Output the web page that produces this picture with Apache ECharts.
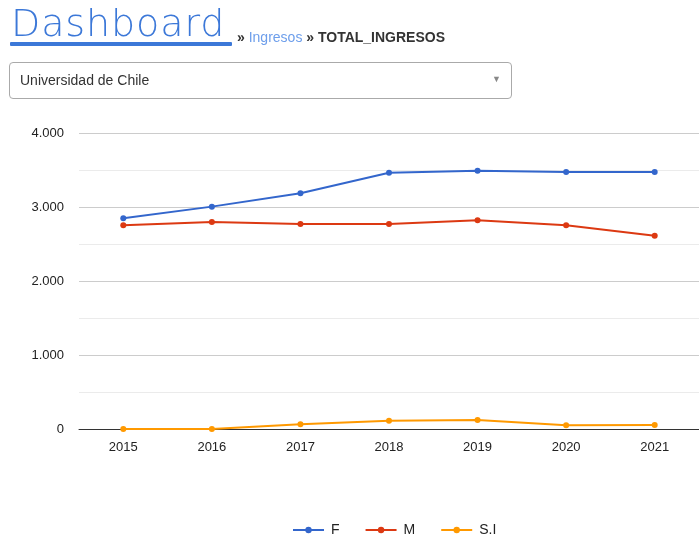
<!DOCTYPE html>
<html><head><meta charset="utf-8">
<script src="https://cdn.jsdelivr.net/npm/echarts@6/dist/echarts.min.js"></script>
<style>
html,body{margin:0;padding:0;background:#fff;width:699px;height:537px;overflow:hidden;font-family:"Liberation Sans",Arial,sans-serif;}
#chart{position:absolute;left:0;top:0;width:699px;height:537px;}
#dash{position:absolute;left:10px;top:3px;font-family:"DejaVu Sans","Noto Sans",sans-serif;font-weight:200;font-size:38px;color:#3c78d8;line-height:40px;letter-spacing:0.9px;padding-left:1px;white-space:nowrap;}
#uline{position:absolute;left:10px;top:42px;width:222px;height:4px;background:#3c78d8;border-radius:1px;}
#crumb{position:absolute;left:237px;top:29px;font-size:14px;color:#333;white-space:nowrap;}
#crumb .lnk{color:#6d9eeb;}
#crumb b{font-weight:bold;}
#sel{position:absolute;left:9px;top:62px;width:503px;height:37px;border:1px solid #aaa;border-radius:4px;box-sizing:border-box;font-size:14px;color:#333;}
#sel span{position:absolute;left:10px;top:9px;}
#sel i{position:absolute;right:10px;top:11px;font-style:normal;font-size:9px;color:#888;}
</style></head>
<body>
<div id="chart"></div>
<div id="dash">Dashboard</div>
<div id="uline"></div>
<div id="crumb"><b>»</b> <span class="lnk">Ingresos</span> <b>» TOTAL_INGRESOS</b></div>
<div id="sel"><span>Universidad de Chile</span><i>▼</i></div>
<script>
var years = ['2015','2016','2017','2018','2019','2020','2021'];
var seriesNames = ['F','M','S.I'];
var valuesF = [2847, 3005, 3185, 3464, 3491, 3473, 3473];
var valuesM = [2752, 2797, 2770, 2770, 2820, 2752, 2613];
var valuesSI = [0, 0, 63, 113, 122, 50, 54];
var colors = ['#3366cc', '#dc3912', '#ff9900'];

function fmt(v){ return String(v).replace(/\B(?=(\d{3})+(?!\d))/g, '.'); }

var chart = echarts.init(document.getElementById('chart'));
var font = '"Liberation Sans", Arial, sans-serif';
function mk(name, data, c){
  return {name:name, type:'line', data:data, symbol:'circle', symbolSize:6,
    lineStyle:{width:2,color:c}, itemStyle:{color:c}, animation:false};
}
chart.setOption({
  animation:false,
  textStyle:{fontFamily:font},
  grid:{left:79, top:133, width:632, bottom:108, containLabel:false},
  xAxis:{type:'category', data:years, boundaryGap:true,
    axisLine:{show:true, lineStyle:{color:'#333', width:1}},
    axisTick:{show:false},
    axisLabel:{color:'#222', fontSize:13, margin:12, fontFamily:font}},
  yAxis:{type:'value', min:0, max:4000, interval:1000,
    axisLine:{show:false}, axisTick:{show:false},
    axisLabel:{color:'#222', fontSize:13, margin:15, fontFamily:font, formatter:fmt},
    splitLine:{lineStyle:{color:'#ccc'}},
    minorTick:{show:false, splitNumber:2},
    minorSplitLine:{show:true, lineStyle:{color:'#ebebeb'}}},
  legend:{top:518, left:287, itemWidth:31, itemHeight:8, itemGap:25,
    textStyle:{color:'#222', fontSize:14, fontFamily:font, padding:[0,0,0,2]},
    data:seriesNames},
  series:[mk(seriesNames[0], valuesF, colors[0]), mk(seriesNames[1], valuesM, colors[1]), mk(seriesNames[2], valuesSI, colors[2])]
});
</script>
</body></html>
